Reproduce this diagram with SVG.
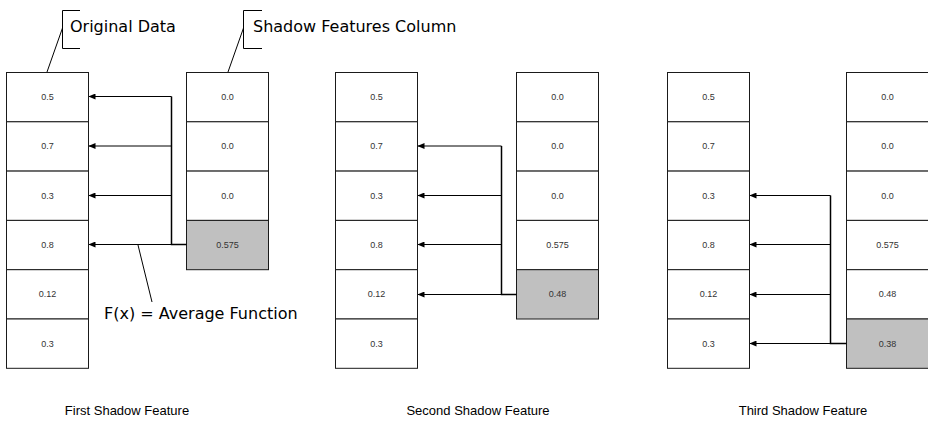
<svg xmlns="http://www.w3.org/2000/svg" width="928" height="421" viewBox="0 0 928 421">
<defs>
<marker id="ah" markerWidth="7" markerHeight="6" refX="6.5" refY="3" orient="auto" markerUnits="userSpaceOnUse">
<path d="M0,0 L7,3 L0,6 Z" fill="#000"/>
</marker>
</defs>
<style>
.c{fill:#fff;stroke:#1a1a1a;stroke-width:1}
.g{fill:#c0c0c0;stroke:#1a1a1a;stroke-width:1}
.v{font-family:"Liberation Sans",Arial,sans-serif;font-size:9px;fill:#333;text-anchor:middle}
.lab{font-family:"Liberation Sans",Arial,sans-serif;font-size:13px;fill:#000;text-anchor:middle}
.co{font-family:"DejaVu Sans",sans-serif;font-size:16px;fill:#000}
.ln{fill:none;stroke:#000;stroke-width:1}
.bus{fill:none;stroke:#000;stroke-width:1.5}
.ar{fill:none;stroke:#000;stroke-width:1;marker-end:url(#ah)}
</style>
<rect width="928" height="421" fill="#fff"/>

<!-- Panel 1 -->
<g id="p1-original">
<rect class="c" x="6.5" y="72.5" width="82" height="49.3"/><text class="v" x="47.5" y="100">0.5</text>
<rect class="c" x="6.5" y="121.8" width="82" height="49.3"/><text class="v" x="47.5" y="149.3">0.7</text>
<rect class="c" x="6.5" y="171.1" width="82" height="49.3"/><text class="v" x="47.5" y="198.6">0.3</text>
<rect class="c" x="6.5" y="220.4" width="82" height="49.3"/><text class="v" x="47.5" y="248">0.8</text>
<rect class="c" x="6.5" y="269.7" width="82" height="49.3"/><text class="v" x="47.5" y="297.3">0.12</text>
<rect class="c" x="6.5" y="319" width="82" height="49.3"/><text class="v" x="47.5" y="346.6">0.3</text>
</g>
<g id="p1-shadow">
<rect class="c" x="186.5" y="72.5" width="82" height="49.3"/><text class="v" x="227.5" y="100">0.0</text>
<rect class="c" x="186.5" y="121.8" width="82" height="49.3"/><text class="v" x="227.5" y="149.3">0.0</text>
<rect class="c" x="186.5" y="171.1" width="82" height="49.3"/><text class="v" x="227.5" y="198.6">0.0</text>
<rect class="g" x="186.5" y="220.4" width="82" height="49.3"/><text class="v" x="227.5" y="248">0.575</text>
</g>

<!-- Panel 2 -->
<g id="p2-original">
<rect class="c" x="335.5" y="72.5" width="82" height="49.3"/><text class="v" x="376.5" y="100">0.5</text>
<rect class="c" x="335.5" y="121.8" width="82" height="49.3"/><text class="v" x="376.5" y="149.3">0.7</text>
<rect class="c" x="335.5" y="171.1" width="82" height="49.3"/><text class="v" x="376.5" y="198.6">0.3</text>
<rect class="c" x="335.5" y="220.4" width="82" height="49.3"/><text class="v" x="376.5" y="248">0.8</text>
<rect class="c" x="335.5" y="269.7" width="82" height="49.3"/><text class="v" x="376.5" y="297.3">0.12</text>
<rect class="c" x="335.5" y="319" width="82" height="49.3"/><text class="v" x="376.5" y="346.6">0.3</text>
</g>
<g id="p2-shadow">
<rect class="c" x="516.5" y="72.5" width="82" height="49.3"/><text class="v" x="557.5" y="100">0.0</text>
<rect class="c" x="516.5" y="121.8" width="82" height="49.3"/><text class="v" x="557.5" y="149.3">0.0</text>
<rect class="c" x="516.5" y="171.1" width="82" height="49.3"/><text class="v" x="557.5" y="198.6">0.0</text>
<rect class="c" x="516.5" y="220.4" width="82" height="49.3"/><text class="v" x="557.5" y="248">0.575</text>
<rect class="g" x="516.5" y="269.7" width="82" height="49.3"/><text class="v" x="557.5" y="297.3">0.48</text>
</g>

<!-- Panel 3 -->
<g id="p3-original">
<rect class="c" x="667.5" y="72.5" width="82" height="49.3"/><text class="v" x="708.5" y="100">0.5</text>
<rect class="c" x="667.5" y="121.8" width="82" height="49.3"/><text class="v" x="708.5" y="149.3">0.7</text>
<rect class="c" x="667.5" y="171.1" width="82" height="49.3"/><text class="v" x="708.5" y="198.6">0.3</text>
<rect class="c" x="667.5" y="220.4" width="82" height="49.3"/><text class="v" x="708.5" y="248">0.8</text>
<rect class="c" x="667.5" y="269.7" width="82" height="49.3"/><text class="v" x="708.5" y="297.3">0.12</text>
<rect class="c" x="667.5" y="319" width="82" height="49.3"/><text class="v" x="708.5" y="346.6">0.3</text>
</g>
<g id="p3-shadow">
<rect class="c" x="846.5" y="72.5" width="82" height="49.3"/><text class="v" x="887.5" y="100">0.0</text>
<rect class="c" x="846.5" y="121.8" width="82" height="49.3"/><text class="v" x="887.5" y="149.3">0.0</text>
<rect class="c" x="846.5" y="171.1" width="82" height="49.3"/><text class="v" x="887.5" y="198.6">0.0</text>
<rect class="c" x="846.5" y="220.4" width="82" height="49.3"/><text class="v" x="887.5" y="248">0.575</text>
<rect class="c" x="846.5" y="269.7" width="82" height="49.3"/><text class="v" x="887.5" y="297.3">0.48</text>
<rect class="g" x="846.5" y="319" width="82" height="49.3"/><text class="v" x="887.5" y="346.6">0.38</text>
</g>

<!-- Connectors -->
<g id="connectors">
<path class="bus" d="M186.5,244.5 H171.5 V96.5"/>
<path class="ar" d="M171.5,96.5 H89"/>
<path class="ar" d="M171.5,146 H89"/>
<path class="ar" d="M171.5,195.5 H89"/>
<path class="ar" d="M171.5,244.5 H89"/>

<path class="bus" d="M516.5,294.5 H501.5 V146"/>
<path class="ar" d="M501.5,146 H418"/>
<path class="ar" d="M501.5,195.5 H418"/>
<path class="ar" d="M501.5,244.5 H418"/>
<path class="ar" d="M501.5,294.5 H418"/>

<path class="bus" d="M846.5,343.5 H830.5 V195.5"/>
<path class="ar" d="M830.5,195.5 H750"/>
<path class="ar" d="M830.5,244.5 H750"/>
<path class="ar" d="M830.5,294.5 H750"/>
<path class="ar" d="M830.5,343.5 H750"/>
</g>

<!-- Callouts -->
<g id="callout-original">
<path class="ln" d="M80,10.5 H62.5 V48.5 H80"/>
<path class="ln" d="M62.5,28 L47,72"/>
<text class="co" x="70" y="32">Original Data</text>
</g>
<g id="callout-shadow">
<path class="ln" d="M262,10.5 H243.5 V48.5 H262"/>
<path class="ln" d="M243.5,28 L228,72"/>
<text class="co" x="253" y="32">Shadow Features Column</text>
</g>
<g id="callout-fx">
<path class="ln" d="M138,245 L152,302"/>
<text class="co" x="104" y="319">F(x) = Average Function</text>
</g>

<g id="labels">
<text class="lab" x="127" y="415">First Shadow Feature</text>
<text class="lab" x="478" y="415">Second Shadow Feature</text>
<text class="lab" x="803" y="415">Third Shadow Feature</text>
</g>
</svg>
